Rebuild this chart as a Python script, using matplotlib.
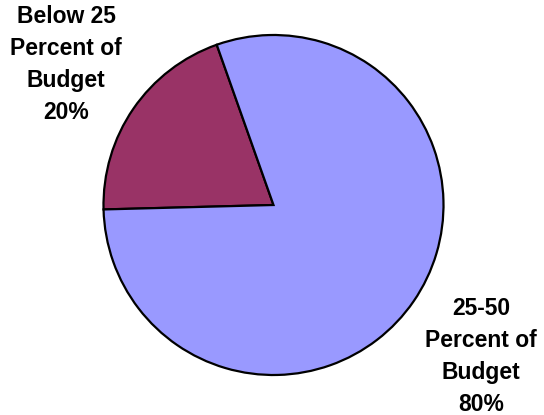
import matplotlib.pyplot as plt

labels = ["Below 25\nPercent of\nBudget\n20%", "25-50\nPercent of\nBudget\n80%"]
shares = [20, 80]
colors = ["#993366", "#9999FF"]

W, H = 544, 415
cx, cy, r = 273.5, 205, 170

fig = plt.figure(figsize=(W / 100, H / 100), dpi=100)
ax = fig.add_axes([0, 0, 1, 1])
ax.pie(shares, colors=colors, startangle=109.5, counterclock=True,
       wedgeprops=dict(edgecolor="black", linewidth=1.6))
ax.set_xlim(-cx / r, (W - cx) / r)
ax.set_ylim(-(H - cy) / r, cy / r)
ax.set_aspect("equal")
ax.axis("off")

# labels placed outside the pie, like the original
label_pos = [((66 - cx) / r, (cy - 64) / r), ((481 - cx) / r, (cy - 356) / r)]
for txt, (x, y) in zip(labels, label_pos):
    ax.text(x, y, txt, ha="center", va="center", fontsize=16.5,
            fontweight="bold", family="Liberation Sans", linespacing=1.5)

fig.savefig("out.png", dpi=100)
